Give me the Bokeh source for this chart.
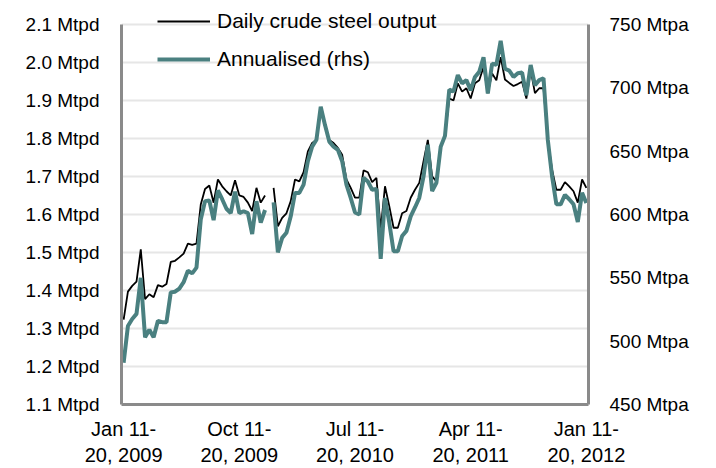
import numpy as np
from bokeh.plotting import figure
from bokeh.models import (Range1d, LinearAxis, FixedTicker, PrintfTickFormatter,
                          Legend, LegendItem, ColumnDataSource)
from bokeh.embed import file_html
from bokeh.resources import INLINE

nan = float("nan")

# dekad index (10-day periods), Jan 11-20 2009 .. Jan 11-20 2012
period_index = list(range(109))

tick_positions = [0, 27, 54, 81, 108]
tick_labels = ["Jan 11-\n20, 2009", "Oct 11-\n20, 2009", "Jul 11-\n20, 2010",
               "Apr 11-\n20, 2011", "Jan 11-\n20, 2012"]

daily_mtpd = [
    1.323, 1.397, 1.412, 1.423, 1.508, 1.377, 1.390, 1.382, 1.414, 1.410,
    1.417, 1.475, 1.478, 1.487, 1.497, 1.523, 1.520, 1.523, 1.626, 1.667,
    1.676, 1.631, 1.692, 1.674, 1.661, 1.650, 1.690, 1.650, 1.646, 1.631,
    1.609, 1.670, 1.631, 1.650, nan, 1.670, 1.569, 1.591, 1.603, 1.635,
    1.692, 1.687, 1.711, 1.766, 1.788, 1.796, 1.878, 1.831, 1.796, 1.788,
    1.775, 1.757, 1.692, 1.670, 1.644, 1.644, 1.716, 1.711, 1.685, 1.696,
    1.561, 1.674, 1.622, 1.565, 1.565, 1.603, 1.609, 1.644, 1.665, 1.683,
    1.740, 1.796, 1.700, 1.687, 1.779, 1.805, 1.905, 1.900, 1.945, 1.923,
    1.932, 1.905, 1.945, 1.953, 1.988, 1.919, 1.971, 1.953, 2.014, 1.955,
    1.946, 1.938, 1.943, 1.949, 1.905, 1.980, 1.919, 1.932, 1.932, 1.796,
    1.718, 1.665, 1.665, 1.685, 1.674, 1.661, 1.631, 1.692, 1.670,
]

annualised_mtpa = [
    483, 512, 517.5, 521.5, 550, 503, 509, 503, 516, 515,
    515, 538.5, 539, 541.5, 546.5, 555.5, 553.5, 558, 596, 610.5,
    611, 595.5, 619, 612, 604.5, 601, 618, 601, 602.5, 601,
    584.5, 610.5, 593.5, 603.5, nan, 609.5, 570, 581.5, 585.5, 598.5,
    617, 617, 623.5, 642, 653.5, 659, 685, 670.5, 657.5, 653.5,
    651, 642, 623.5, 613, 601.5, 600, 629, 626, 619.5, 620,
    565, 613, 593.5, 571, 571, 583, 587, 598.5, 605.5, 613,
    630, 655, 618.5, 625, 653.5, 662, 698.5, 697, 710, 703.5,
    706, 698, 708.5, 712.5, 724, 695.5, 719, 718, 737, 715,
    713.5, 708.5, 711.5, 712, 694, 718, 702, 706, 707.5, 659,
    630, 608, 608, 615.5, 612, 608, 594, 617, 609,
]

left_ticks = [1.1, 1.2, 1.3, 1.4, 1.5, 1.6, 1.7, 1.8, 1.9, 2.0, 2.1]
right_ticks = [450, 500, 550, 600, 650, 700, 750]

FONT = "Liberation Sans"
TEAL = "#4a8080"
AXIS_GREY = "#8a8a8a"

# layout (pixels)
W, H = 716, 468
LEFT, RIGHT, TOP, BOTTOM = 121, 128, 0, 62
AXIS_TOP_PX = 24                      # where the 2.1 / 750 gridline sits
AXIS_SPAN_PX = H - BOTTOM - AXIS_TOP_PX
extra = (AXIS_TOP_PX - TOP) / AXIS_SPAN_PX  # fraction of range above top tick

lmin, lmax = left_ticks[0], left_ticks[-1]
rmin, rmax = right_ticks[0], right_ticks[-1]

src = ColumnDataSource(dict(x=np.array(period_index, dtype=float),
                            d=np.array(daily_mtpd, dtype=float),
                            a=np.array(annualised_mtpa, dtype=float)))

p = figure(width=W, height=H, output_backend="svg", toolbar_location=None,
           x_range=Range1d(-0.5, len(period_index) - 0.5),
           y_range=Range1d(lmin, lmax + extra * (lmax - lmin)),
           min_border_left=LEFT, min_border_right=RIGHT, min_border_top=TOP,
           min_border_bottom=BOTTOM)
p.outline_line_color = None
p.background_fill_color = "white"
p.border_fill_color = "white"

p.extra_y_ranges = {"rhs": Range1d(rmin, rmax + extra * (rmax - rmin))}

# gridlines
p.xgrid.grid_line_color = None
p.ygrid.grid_line_color = "#e6e6e6"
p.ygrid.grid_line_width = 2
p.ygrid.ticker = FixedTicker(ticks=left_ticks)

def style_axis(ax, size):
    ax.axis_line_color = AXIS_GREY
    ax.axis_line_width = 3
    ax.major_tick_line_color = None
    ax.minor_tick_line_color = None
    ax.major_tick_out = 0
    ax.major_tick_in = 0
    ax.minor_tick_out = 0
    ax.major_label_text_font = FONT
    ax.major_label_text_font_size = size
    ax.major_label_text_color = "black"

# left axis
la = p.yaxis[0]
la.ticker = FixedTicker(ticks=left_ticks)
la.formatter = PrintfTickFormatter(format="%.1f Mtpd")
la.bounds = (lmin, lmax)
style_axis(la, "19px")
la.major_label_standoff = 22

# bottom axis
ba = p.xaxis[0]
ba.ticker = FixedTicker(ticks=tick_positions)
ba.major_label_overrides = {float(k): v for k, v in zip(tick_positions, tick_labels)}
style_axis(ba, "20px")
ba.major_label_standoff = 13

# right axis
ra = LinearAxis(y_range_name="rhs", ticker=FixedTicker(ticks=right_ticks),
                formatter=PrintfTickFormatter(format="%d Mtpa"),
                bounds=(rmin, rmax))
style_axis(ra, "19px")
ra.major_label_standoff = 21
p.add_layout(ra, "right")

r_daily = p.line("x", "d", source=src, line_color="black", line_width=1.8)
r_ann = p.line("x", "a", source=src, y_range_name="rhs", line_color=TEAL,
               line_width=4)

legend = Legend(items=[LegendItem(label="Daily crude steel output", renderers=[r_daily]),
                       LegendItem(label="Annualised (rhs)", renderers=[r_ann])],
                location=(36, 333))
legend.background_fill_alpha = 0
legend.border_line_color = None
legend.padding = 0
legend.margin = 0
legend.glyph_width = 53
legend.glyph_height = 20
legend.label_height = 20
legend.label_standoff = 7
legend.spacing = 14
legend.label_text_font = FONT
legend.label_text_font_size = "21px"
legend.label_text_color = "black"
p.add_layout(legend, "center")

open("out.html", "w").write(file_html(p, INLINE))
